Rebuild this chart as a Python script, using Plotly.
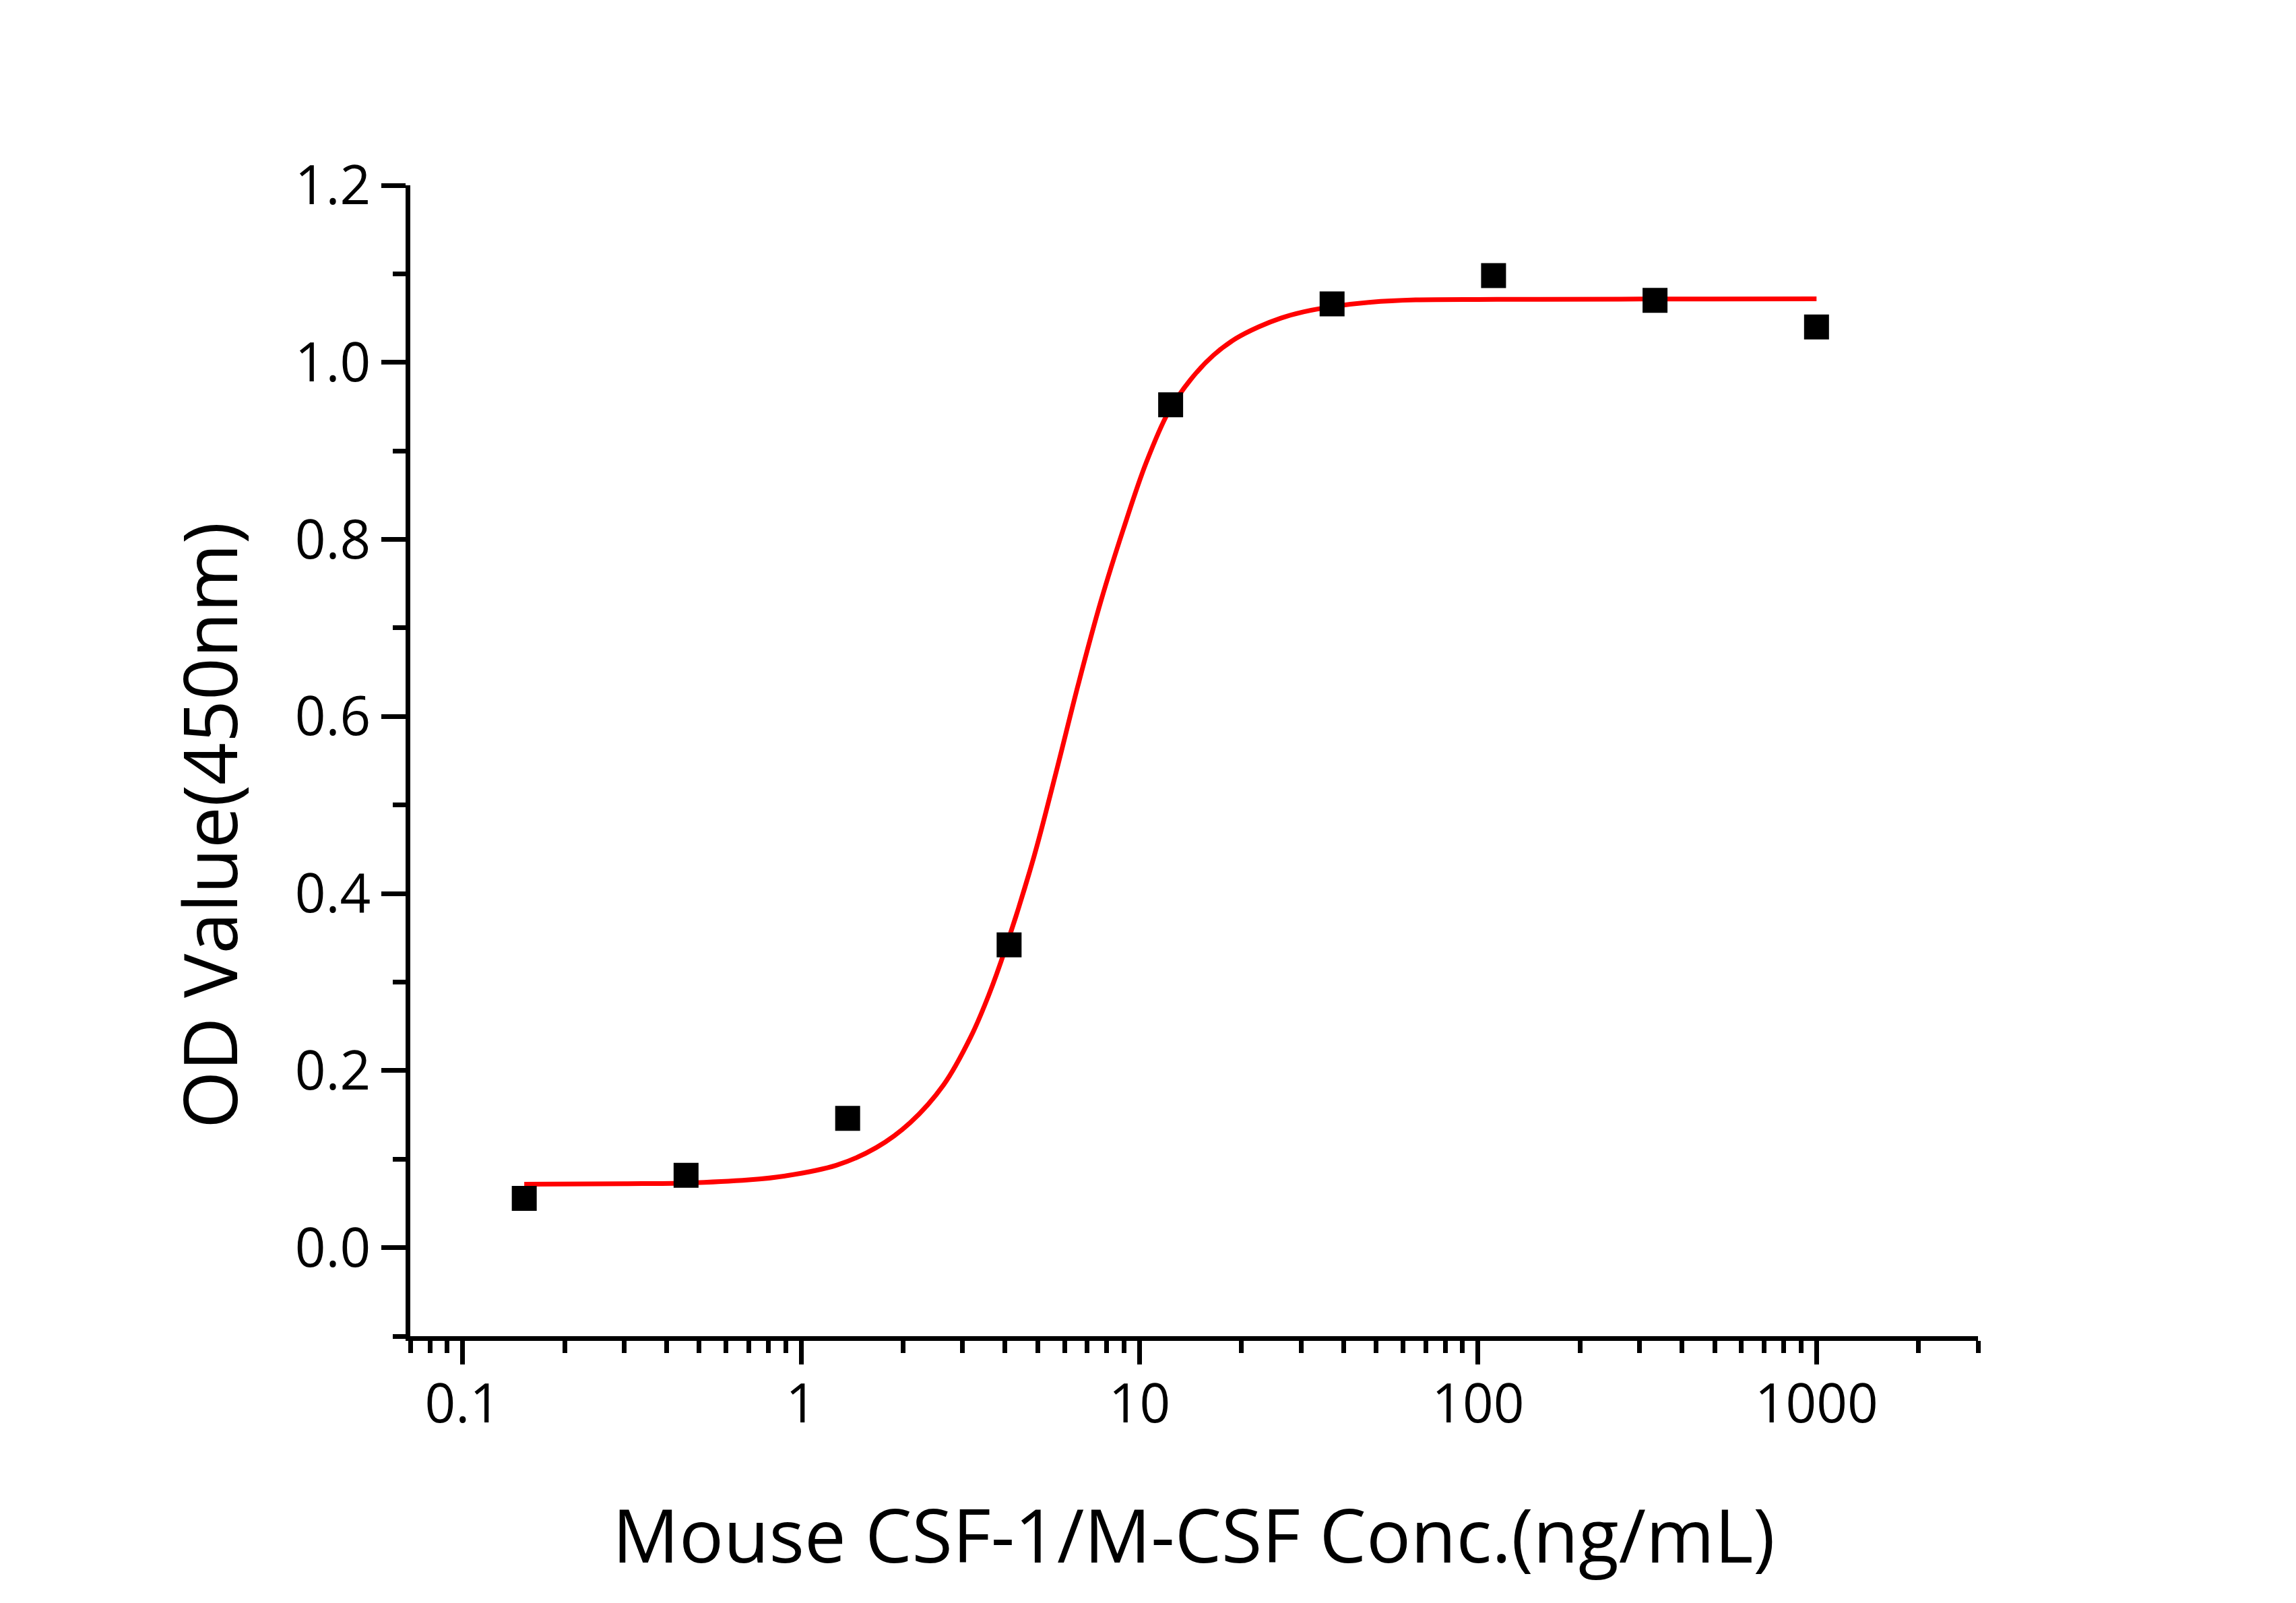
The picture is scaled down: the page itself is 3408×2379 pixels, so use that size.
import math
import plotly.graph_objects as go

# Measured data points (concentration ng/mL, OD450)
conc = [0.152, 0.457, 1.372, 4.115, 12.35, 37.04, 111.1, 333.3, 1000]
od = [0.0556, 0.0817, 0.146, 0.342, 0.952, 1.066, 1.098, 1.070, 1.040]

# Fitted curve
curve_x = [0.152, 0.30, 0.456, 0.70, 0.897, 1.27, 1.667, 2.097, 2.637, 3.17, 3.58,
           4.015, 4.86, 5.665, 6.60, 7.69, 8.96, 10.44, 12.17, 14.18, 16.52, 19.26,
           22.44, 26.15, 30.47, 37.17, 48.2, 65.4, 113.5, 300, 1000]
curve_y = [0.0716, 0.0722, 0.0730, 0.0765, 0.0810, 0.0930, 0.113, 0.141, 0.184, 0.238, 0.285,
           0.338, 0.440, 0.537, 0.6375, 0.7307, 0.812, 0.886, 0.944, 0.981, 1.008, 1.027,
           1.040, 1.050, 1.057, 1.063, 1.068, 1.0706, 1.0711, 1.0715, 1.0718]

x_ticks = [0.1, 1, 10, 100, 1000]
x_ticktext = ["0.1", "1", "10", "100", "1000"]
y_ticks = [0.0, 0.2, 0.4, 0.6, 0.8, 1.0, 1.2]
y_minor = [-0.1, 0.1, 0.3, 0.5, 0.7, 0.9, 1.1]

x_minor = []
for d in [0.01, 0.1, 1, 10, 100, 1000]:
    for k in range(2, 10):
        v = d * k
        if 0.0699 <= v <= 3001:
            x_minor.append(v)

FONT = "Open Sans"
W, H = 3408, 2379
L, R, T, B = 609, 472, 275, 396
plot_w = W - L - R
plot_h = H - T - B

fig = go.Figure()
fig.add_trace(go.Scatter(
    x=curve_x, y=curve_y, mode="lines",
    line=dict(color="#FF0000", width=7, shape="spline", smoothing=1.0),
    showlegend=False, hoverinfo="skip"))
fig.add_trace(go.Scatter(
    x=conc, y=od, mode="markers",
    marker=dict(symbol="square", size=37, color="black", line=dict(width=0)),
    showlegend=False))

axis_common = dict(
    showline=True, linecolor="black", linewidth=6.5,
    ticks="outside", tickcolor="black", tickwidth=6.5,
    showgrid=False, zeroline=False, mirror=False,
    tickfont=dict(family=FONT, size=80, color="black"),
)

fig.update_xaxes(
    type="log", range=[math.log10(0.07), math.log10(3000)],
    tickmode="array", tickvals=x_ticks, ticktext=x_ticktext, ticklen=35,
    ticklabelstandoff=-10,
    minor=dict(ticks="outside", tickmode="array", tickvals=x_minor, ticklen=18,
               tickwidth=6.5, tickcolor="black", showgrid=False),
    **axis_common)
fig.update_yaxes(
    range=[-0.1, 1.2], tickmode="array", tickvals=y_ticks, tickformat=".1f", ticklen=36,
    minor=dict(ticks="outside", tickmode="array", tickvals=y_minor, ticklen=19,
               tickwidth=6.5, tickcolor="black", showgrid=False),
    **axis_common)

def py(ypix):
    return (H - B - ypix) / plot_h

def px(xpix):
    return (xpix - L) / plot_w

fig.add_annotation(text="Mouse CSF-1/M-CSF Conc.(ng/mL)", xref="paper", yref="paper",
                   x=px(1772), y=py(2276), xanchor="center", yanchor="middle",
                   showarrow=False, font=dict(family=FONT, size=110, color="black"))
fig.add_annotation(text="OD Value(450nm)", xref="paper", yref="paper",
                   x=px(309), y=py(1225), xanchor="center", yanchor="middle", textangle=-90,
                   showarrow=False, font=dict(family=FONT, size=110, color="black"))

fig.update_layout(
    width=W, height=H, autosize=False,
    margin=dict(l=L, r=R, t=T, b=B, pad=0),
    paper_bgcolor="white", plot_bgcolor="white",
    font=dict(family=FONT, color="black"),
)

fig.write_html("out.html", config={"displayModeBar": False},
               post_script="document.body.style.margin='0';")
